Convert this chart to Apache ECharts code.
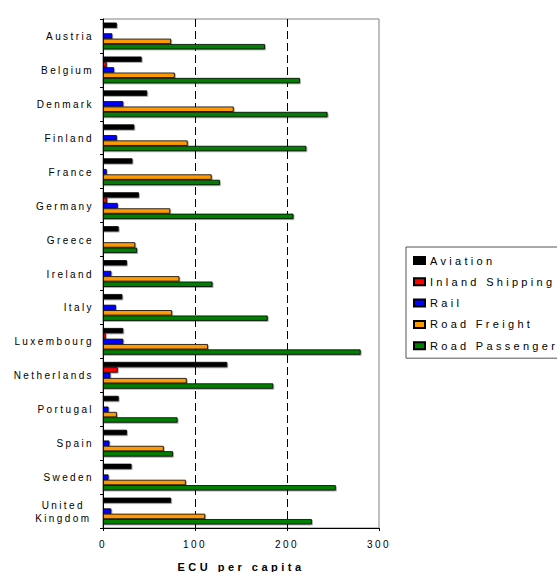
<!DOCTYPE html>
<html>
<head>
<meta charset="utf-8">
<script src="https://cdn.jsdelivr.net/npm/echarts@6/dist/echarts.min.js"></script>
<style>
html,body{margin:0;padding:0;background:#fff;overflow:hidden;}
#chart{width:557px;height:572px;}
#chart text{letter-spacing:2.4px;}
#chart text[style*="11px"]{letter-spacing:3.3px;}
#chart text[style*="bold"]{letter-spacing:3.5px;}
</style>
</head>
<body>
<div id="chart"></div>
<script>
var categories = ['Austria','Belgium','Denmark','Finland','France','Germany','Greece','Ireland','Italy','Luxembourg','Netherlands','Portugal','Spain','Sweden','United\nKingdom'];
var seriesNames = ['Aviation','Inland Shipping','Rail','Road Freight','Road Passenger'];
var aviation      = [15, 42, 48, 34, 32, 39, 17, 26, 21, 22, 135, 17, 26, 31, 74];
var inlandShipping= [0, 4, 0, 0, 0, 4.5, 0, 0, 0, 3, 16, 0, 0, 0, 0];
var rail          = [10, 12, 22, 15, 4, 16, 1, 9, 14, 22, 8, 6, 7, 6, 9];
var roadFreight   = [74, 78, 142, 92, 118, 73, 35, 83, 75, 114, 91, 15, 66, 90, 111];
var roadPassenger = [176, 214, 244, 221, 127, 207, 37, 119, 179, 280, 185, 81, 76, 253, 227];
var xTicks = [0, 100, 200, 300];
var colors = ['#000000','#ff0000','#0000ff','#ff9900','#008000'];

var font = '"Liberation Sans", Arial, sans-serif';
var values = [aviation, inlandShipping, rail, roadFreight, roadPassenger];

var chart = echarts.init(document.getElementById('chart'), null, {renderer:'svg'});
chart.setOption({
  animation:false,
  textStyle:{fontFamily:font},
  grid:{left:103, top:19, right:178, bottom:44, show:true, borderColor:'#808080', borderWidth:1,
    containLabel:false, outerBoundsMode:'none'},
  legend:{
    orient:'vertical', left:406, top:247,
    padding:[8,200,7,7], itemGap:10.3, itemWidth:11, itemHeight:7,
    icon:'rect', borderColor:'#555', borderWidth:1, backgroundColor:'#fff',
    textStyle:{fontSize:11, color:'#000', fontFamily:font},
    data:seriesNames
  },
  xAxis:{
    type:'value', min:xTicks[0], max:xTicks[xTicks.length-1], interval:100,
    name:'ECU per capita', nameLocation:'middle', nameGap:33,
    nameTextStyle:{fontSize:11, fontWeight:'bold', color:'#000', fontFamily:font},
    axisLine:{show:true, lineStyle:{color:'#000', width:1}},
    axisTick:{show:true, length:3, lineStyle:{color:'#000'}},
    axisLabel:{fontSize:10, color:'#000', margin:11, fontFamily:font},
    splitLine:{show:true, showMinLine:false, showMaxLine:false, lineStyle:{color:'#000', type:[8,4], width:1}}
  },
  yAxis:{
    type:'category', data:categories, inverse:true,
    axisLine:{show:true, lineStyle:{color:'#000', width:1}},
    axisTick:{show:true, length:3, lineStyle:{color:'#000'}},
    axisLabel:{fontSize:10, color:'#000', margin:9, lineHeight:13, padding:[1,0,0,0], fontFamily:font,
      formatter:function(v){
        return v.indexOf('\n') >= 0 ? v.split('\n').map(function(s){return '{c|' + s + '}';}).join('\n') : v;
      },
      rich:{c:{align:'center', fontSize:10, lineHeight:13, color:'#000', fontFamily:font, padding:[0,11,0,0]}}
    },
    splitLine:{show:false}
  },
  series:seriesNames.map(function(n,i){
    return {
      name:n, type:'bar', data:values[i], barGap:'0%', barCategoryGap:'21%',
      itemStyle:{color:colors[i], borderColor:'#000', borderWidth:0.8,
        shadowColor:'rgba(0,0,0,0.35)', shadowOffsetX:1, shadowOffsetY:1, shadowBlur:0}
    };
  })
});
</script>
</body>
</html>
